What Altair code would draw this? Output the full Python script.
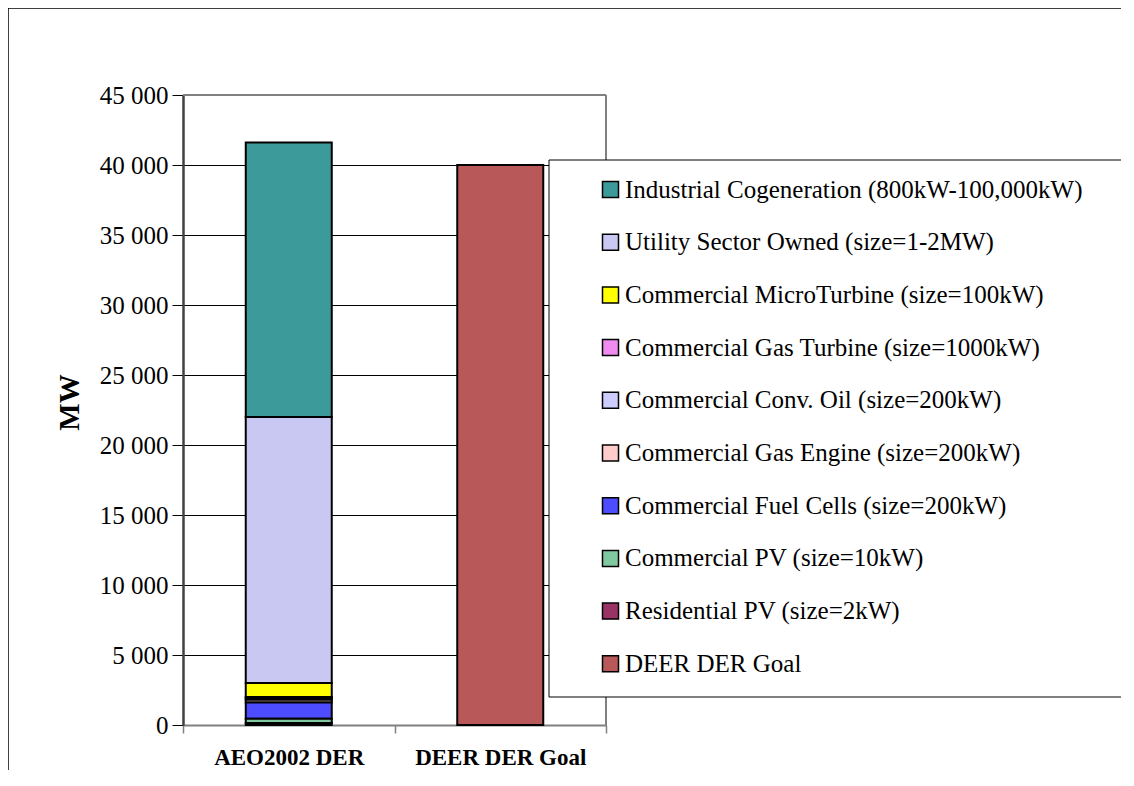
import altair as alt
import pandas as pd

categories = ["AEO2002 DER", "DEER DER Goal"]
series = [
    "Industrial Cogeneration (800kW-100,000kW)",
    "Utility Sector Owned (size=1-2MW)",
    "Commercial MicroTurbine (size=100kW)",
    "Commercial Gas Turbine (size=1000kW)",
    "Commercial Conv. Oil (size=200kW)",
    "Commercial Gas Engine (size=200kW)",
    "Commercial Fuel Cells (size=200kW)",
    "Commercial PV (size=10kW)",
    "Residential PV (size=2kW)",
    "DEER DER Goal",
]
aeo_values = [19600, 19000, 1000, 100, 100, 200, 1150, 300, 150, 0]
deer_values = [0, 0, 0, 0, 0, 0, 0, 0, 0, 40000]
colors = ["#3d9a9a", "#c8c8f2", "#ffff00", "#f08cf0", "#ccccff",
          "#ffcccc", "#4d4dff", "#80c8a0", "#993366", "#b85858"]

rows = []
for cat, vals in zip(categories, [aeo_values, deer_values]):
    for i, (s, v) in enumerate(zip(series, vals)):
        if v > 0:
            rows.append({"category": cat, "series": s, "value": v,
                         "order": len(series) - 1 - i})
df = pd.DataFrame(rows)

W, H = 423, 630
SERIF = "Liberation Serif"
one = pd.DataFrame({"a": [0]})

outer = alt.Chart(one).mark_rect(filled=False, stroke="black", strokeWidth=1.5).encode(
    x=alt.value(-175), x2=alt.value(1200), y=alt.value(-87), y2=alt.value(900))

bars = alt.Chart(df).mark_bar(size=86, stroke="black", strokeWidth=2).encode(
    x=alt.X("category:N", sort=categories,
            scale=alt.Scale(paddingInner=0, paddingOuter=0),
            axis=alt.Axis(title=None, labelAngle=0, labelFont=SERIF, labelFontWeight="bold",
                          labelFontSize=23, labelColor="black", labelPadding=13,
                          tickBand="extent", tickSize=8, tickColor="#808080", tickWidth=1.5,
                          domainColor="#808080", domainWidth=2, grid=False)),
    y=alt.Y("value:Q", stack="zero",
            scale=alt.Scale(domain=[0, 45000], nice=False),
            axis=alt.Axis(title="MW", values=list(range(0, 45001, 5000)),
                          labelExpr="replace(format(datum.value, ',d'), ',', ' ')",
                          labelFont=SERIF, labelFontSize=25, labelColor="black", labelPadding=4,
                          tickSize=11, tickColor="black", tickWidth=1,
                          domainColor="#404040", domainWidth=2.5,
                          grid=True, gridColor="black", gridWidth=1, gridOpacity=1,
                          titleFont=SERIF, titleFontSize=29, titleFontWeight="bold",
                          titleColor="black", titleAngle=270, titleAlign="center",
                          titleBaseline="middle", titleX=-114, titleY=307)),
    color=alt.Color("series:N", scale=alt.Scale(domain=series, range=colors),
                    legend=alt.Legend(orient="none", legendX=415, legendY=82, title=None,
                                      symbolType="square", symbolSize=256,
                                      symbolStrokeColor="black", symbolStrokeWidth=1.5,
                                      symbolOpacity=1,
                                      labelFont=SERIF, labelFontSize=25, labelColor="black",
                                      labelOffset=2, labelLimit=1000, rowPadding=26.7,
                                      padding=0)),
    order=alt.Order("order:Q", sort="ascending"),
)

top_rule = alt.Chart(one).mark_rule(color="#808080", strokeWidth=2).encode(
    x=alt.value(0), x2=alt.value(W), y=alt.value(0))
right_rule = alt.Chart(one).mark_rule(color="#808080", strokeWidth=2).encode(
    x=alt.value(W), y=alt.value(0), y2=alt.value(H))

legend_box = alt.Chart(one).mark_rect(fill="white", stroke="black", strokeWidth=1).encode(
    x=alt.value(549 - 183), x2=alt.value(1200), y=alt.value(160 - 95), y2=alt.value(697 - 95))

chart = alt.layer(outer, top_rule, right_rule, bars, legend_box).properties(
    width=W, height=H,
    autosize=alt.AutoSizeParams(type="none"),
    padding={"left": 175, "top": 87, "right": 515, "bottom": 45},
).configure_view(stroke=None).configure(background="white")

chart.save("out.html", embed_options={"renderer": "svg", "actions": False})
